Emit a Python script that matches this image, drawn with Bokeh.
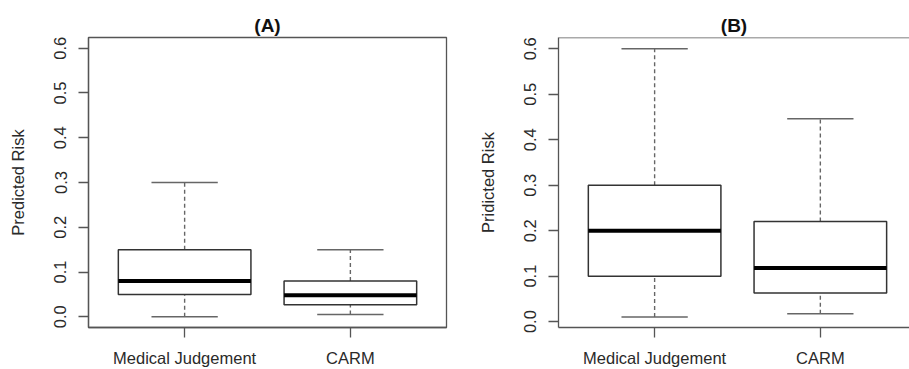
import numpy as np
from bokeh.plotting import figure
from bokeh.layouts import row
from bokeh.models import FixedTicker, PrintfTickFormatter, Span
from bokeh.embed import file_html
from bokeh.resources import INLINE

# ---- data ----
categories = ["Medical Judgement", "CARM"]
y_ticks = [0.0, 0.1, 0.2, 0.3, 0.4, 0.5, 0.6]

a_low = [0.0, 0.005]
a_q1 = [0.05, 0.027]
a_med = [0.08, 0.048]
a_q3 = [0.15, 0.08]
a_high = [0.30, 0.15]

b_low = [0.01, 0.0175]
b_q1 = [0.10, 0.063]
b_med = [0.20, 0.118]
b_q3 = [0.30, 0.22]
b_high = [0.60, 0.446]

FONT = "Liberation Sans"
TEXT = "#2a2a2a"
AXC = "#555555"
BOXC = "#333333"
WHC = "#666666"


def make_panel(title, ylabel, low, q1, med, q3, high, yr, xr, width, mbl, mbr, full_box):
    p = figure(width=width, height=369, output_backend="svg", toolbar_location=None,
               x_range=xr, y_range=yr, title=title,
               min_border_left=mbl, min_border_right=mbr, min_border_top=37,
               min_border_bottom=41)
    p.title.align = "center"
    p.title.text_font = FONT
    p.title.text_font_size = "19px"
    p.title.text_font_style = "bold"
    p.title.text_color = "#111111"
    p.title.standoff = 4
    p.xgrid.visible = False
    p.ygrid.visible = False
    p.background_fill_color = "white"
    p.border_fill_color = "white"
    if full_box:
        p.outline_line_color = AXC
        p.outline_line_width = 1.3
    else:
        p.outline_line_color = None
        p.add_layout(Span(location=yr[1], dimension="width", line_color=AXC, line_width=1.3))

    xs = np.arange(1, len(categories) + 1)
    bw = 0.8
    cw = 0.4
    # whiskers
    p.segment(x0=xs, x1=xs, y0=q3, y1=high, line_color=WHC, line_width=1.4, line_dash="4 3")
    p.segment(x0=xs, x1=xs, y0=low, y1=q1, line_color=WHC, line_width=1.4, line_dash="4 3")
    # caps
    p.segment(x0=xs - cw / 2, x1=xs + cw / 2, y0=high, y1=high, line_color=WHC, line_width=1.5)
    p.segment(x0=xs - cw / 2, x1=xs + cw / 2, y0=low, y1=low, line_color=WHC, line_width=1.5)
    # boxes
    p.quad(left=xs - bw / 2, right=xs + bw / 2, bottom=q1, top=q3,
           fill_color="white", line_color=BOXC, line_width=1.5)
    # medians
    p.segment(x0=xs - bw / 2, x1=xs + bw / 2, y0=med, y1=med, line_color="black", line_width=4)

    # axes
    xa = p.xaxis[0]
    xa.ticker = FixedTicker(ticks=list(xs))
    xa.major_label_overrides = {int(x): c for x, c in zip(xs, categories)}
    xa.major_tick_out = 10
    xa.major_tick_in = 0
    xa.minor_tick_line_color = None
    xa.major_label_standoff = 11
    xa.major_label_text_font = FONT
    xa.major_label_text_font_size = "16.5px"
    xa.major_label_text_color = TEXT
    xa.axis_line_color = AXC
    xa.axis_line_width = 1.3
    xa.major_tick_line_color = AXC
    xa.major_tick_line_width = 1.3

    ya = p.yaxis[0]
    ya.ticker = FixedTicker(ticks=y_ticks)
    ya.formatter = PrintfTickFormatter(format="%.1f")
    ya.major_label_orientation = "vertical"
    ya.major_tick_out = 10
    ya.major_tick_in = 0
    ya.minor_tick_line_color = None
    ya.major_label_standoff = 12
    ya.major_label_text_font = FONT
    ya.major_label_text_font_size = "16.5px"
    ya.major_label_text_color = TEXT
    ya.axis_line_color = AXC
    ya.axis_line_width = 1.3
    ya.major_tick_line_color = AXC
    ya.major_tick_line_width = 1.3
    ya.axis_label = ylabel
    ya.axis_label_text_font = FONT
    ya.axis_label_text_font_size = "16.5px"
    ya.axis_label_text_font_style = "normal"
    ya.axis_label_text_color = TEXT
    ya.axis_label_standoff = 25
    return p


pA = make_panel("(A)", "Predicted Risk", a_low, a_q1, a_med, a_q3, a_high,
                (-0.024, 0.624), (0.42, 2.58), 470, 88, 24, True)
pB = make_panel("(B)", "Pridicted Risk", b_low, b_q1, b_med, b_q3, b_high,
                (-0.013, 0.625), (0.42, 2.538), 439, 88, 0, False)

layout = row(pA, pB)
open("out.html", "w").write(file_html(layout, INLINE))
